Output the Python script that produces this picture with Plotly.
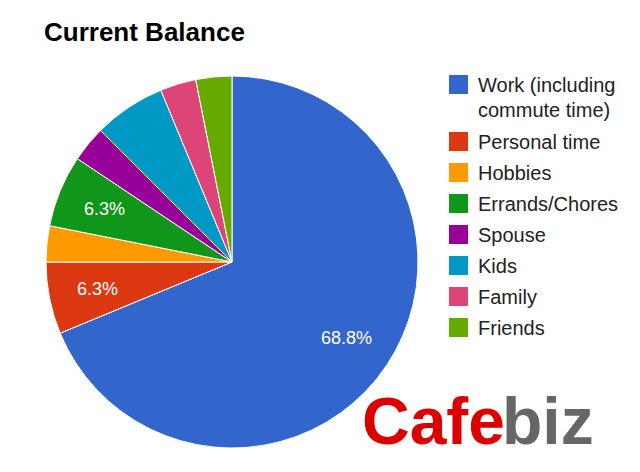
import math
import plotly.graph_objects as go

labels = ["Work (including commute time)", "Personal time", "Hobbies", "Errands/Chores",
          "Spouse", "Kids", "Family", "Friends"]
legend_lines = [["Work (including", "commute time)"], ["Personal time"], ["Hobbies"],
                ["Errands/Chores"], ["Spouse"], ["Kids"], ["Family"], ["Friends"]]
values = [22, 2, 1, 2, 1, 2, 1, 1]
shown_labels = ["68.8%", "6.3%", "", "6.3%", "", "", "", ""]
colors = ["#3366cc", "#dc3912", "#ff9900", "#109618", "#990099", "#0099c6", "#dd4477", "#66aa00"]

W, H = 640, 472
cx, cy, r = 232, 262, 186
FONT = "Liberation Sans, Arial, sans-serif"

fig = go.Figure()
fig.add_trace(go.Pie(
    labels=labels, values=values, sort=False, direction="clockwise", rotation=0,
    marker=dict(colors=colors, line=dict(color="white", width=1)),
    textinfo="none",
    domain=dict(x=[(cx - r) / W, (cx + r) / W], y=[1 - (cy + r) / H, 1 - (cy - r) / H]),
    showlegend=False, hoverinfo="label+percent",
))

shapes = []
annotations = []

# slice labels placed along each slice's mid-angle (clockwise from 12 o'clock)
total = sum(values)
cum = 0
for v, t in zip(values, shown_labels):
    mid = (cum + v / 2) / total * 2 * math.pi
    cum += v
    if not t:
        continue
    px = cx + 0.74 * r * math.sin(mid)
    py = cy - 0.74 * r * math.cos(mid)
    annotations.append(dict(text=t, xref="paper", yref="paper", x=px / W, y=1 - py / H,
                            xanchor="center", yanchor="middle", showarrow=False,
                            font=dict(family=FONT, size=18, color="white")))

# legend
y = 84.5
for i, lines in enumerate(legend_lines):
    shapes.append(dict(type="rect", xref="paper", yref="paper",
                       x0=449 / W, x1=468 / W, y0=1 - (y + 9.5) / H, y1=1 - (y - 9.5) / H,
                       fillcolor=colors[i], line=dict(width=0)))
    for j, line in enumerate(lines):
        annotations.append(dict(text=line, xref="paper", yref="paper", x=476 / W,
                                y=1 - (y + j * 25) / H, xanchor="left", yanchor="middle",
                                showarrow=False,
                                font=dict(family=FONT, size=20, color="#222222")))
    y += 31 + (len(lines) - 1) * 26

# watermark
annotations.append(dict(text="<b>Cafe</b>", xref="paper", yref="paper", x=360 / W, y=1 - 421 / H,
                        xanchor="left", yanchor="middle", showarrow=False,
                        font=dict(family=FONT, size=66, color="#dd0000")))
annotations.append(dict(text="<b>biz</b>", xref="paper", yref="paper", x=500 / W, y=1 - 421 / H,
                        xanchor="left", yanchor="middle", showarrow=False,
                        font=dict(family=FONT, size=66, color="#666666")))

fig.update_layout(
    width=W, height=H, margin=dict(l=0, r=0, t=0, b=0),
    paper_bgcolor="white", plot_bgcolor="white",
    title=dict(text="<b>Current Balance</b>", x=44 / W, xanchor="left", y=1 - 32 / H, yanchor="middle",
               font=dict(family=FONT, size=26, color="#000000")),
    shapes=shapes, annotations=annotations,
)

fig.write_html("out.html")
